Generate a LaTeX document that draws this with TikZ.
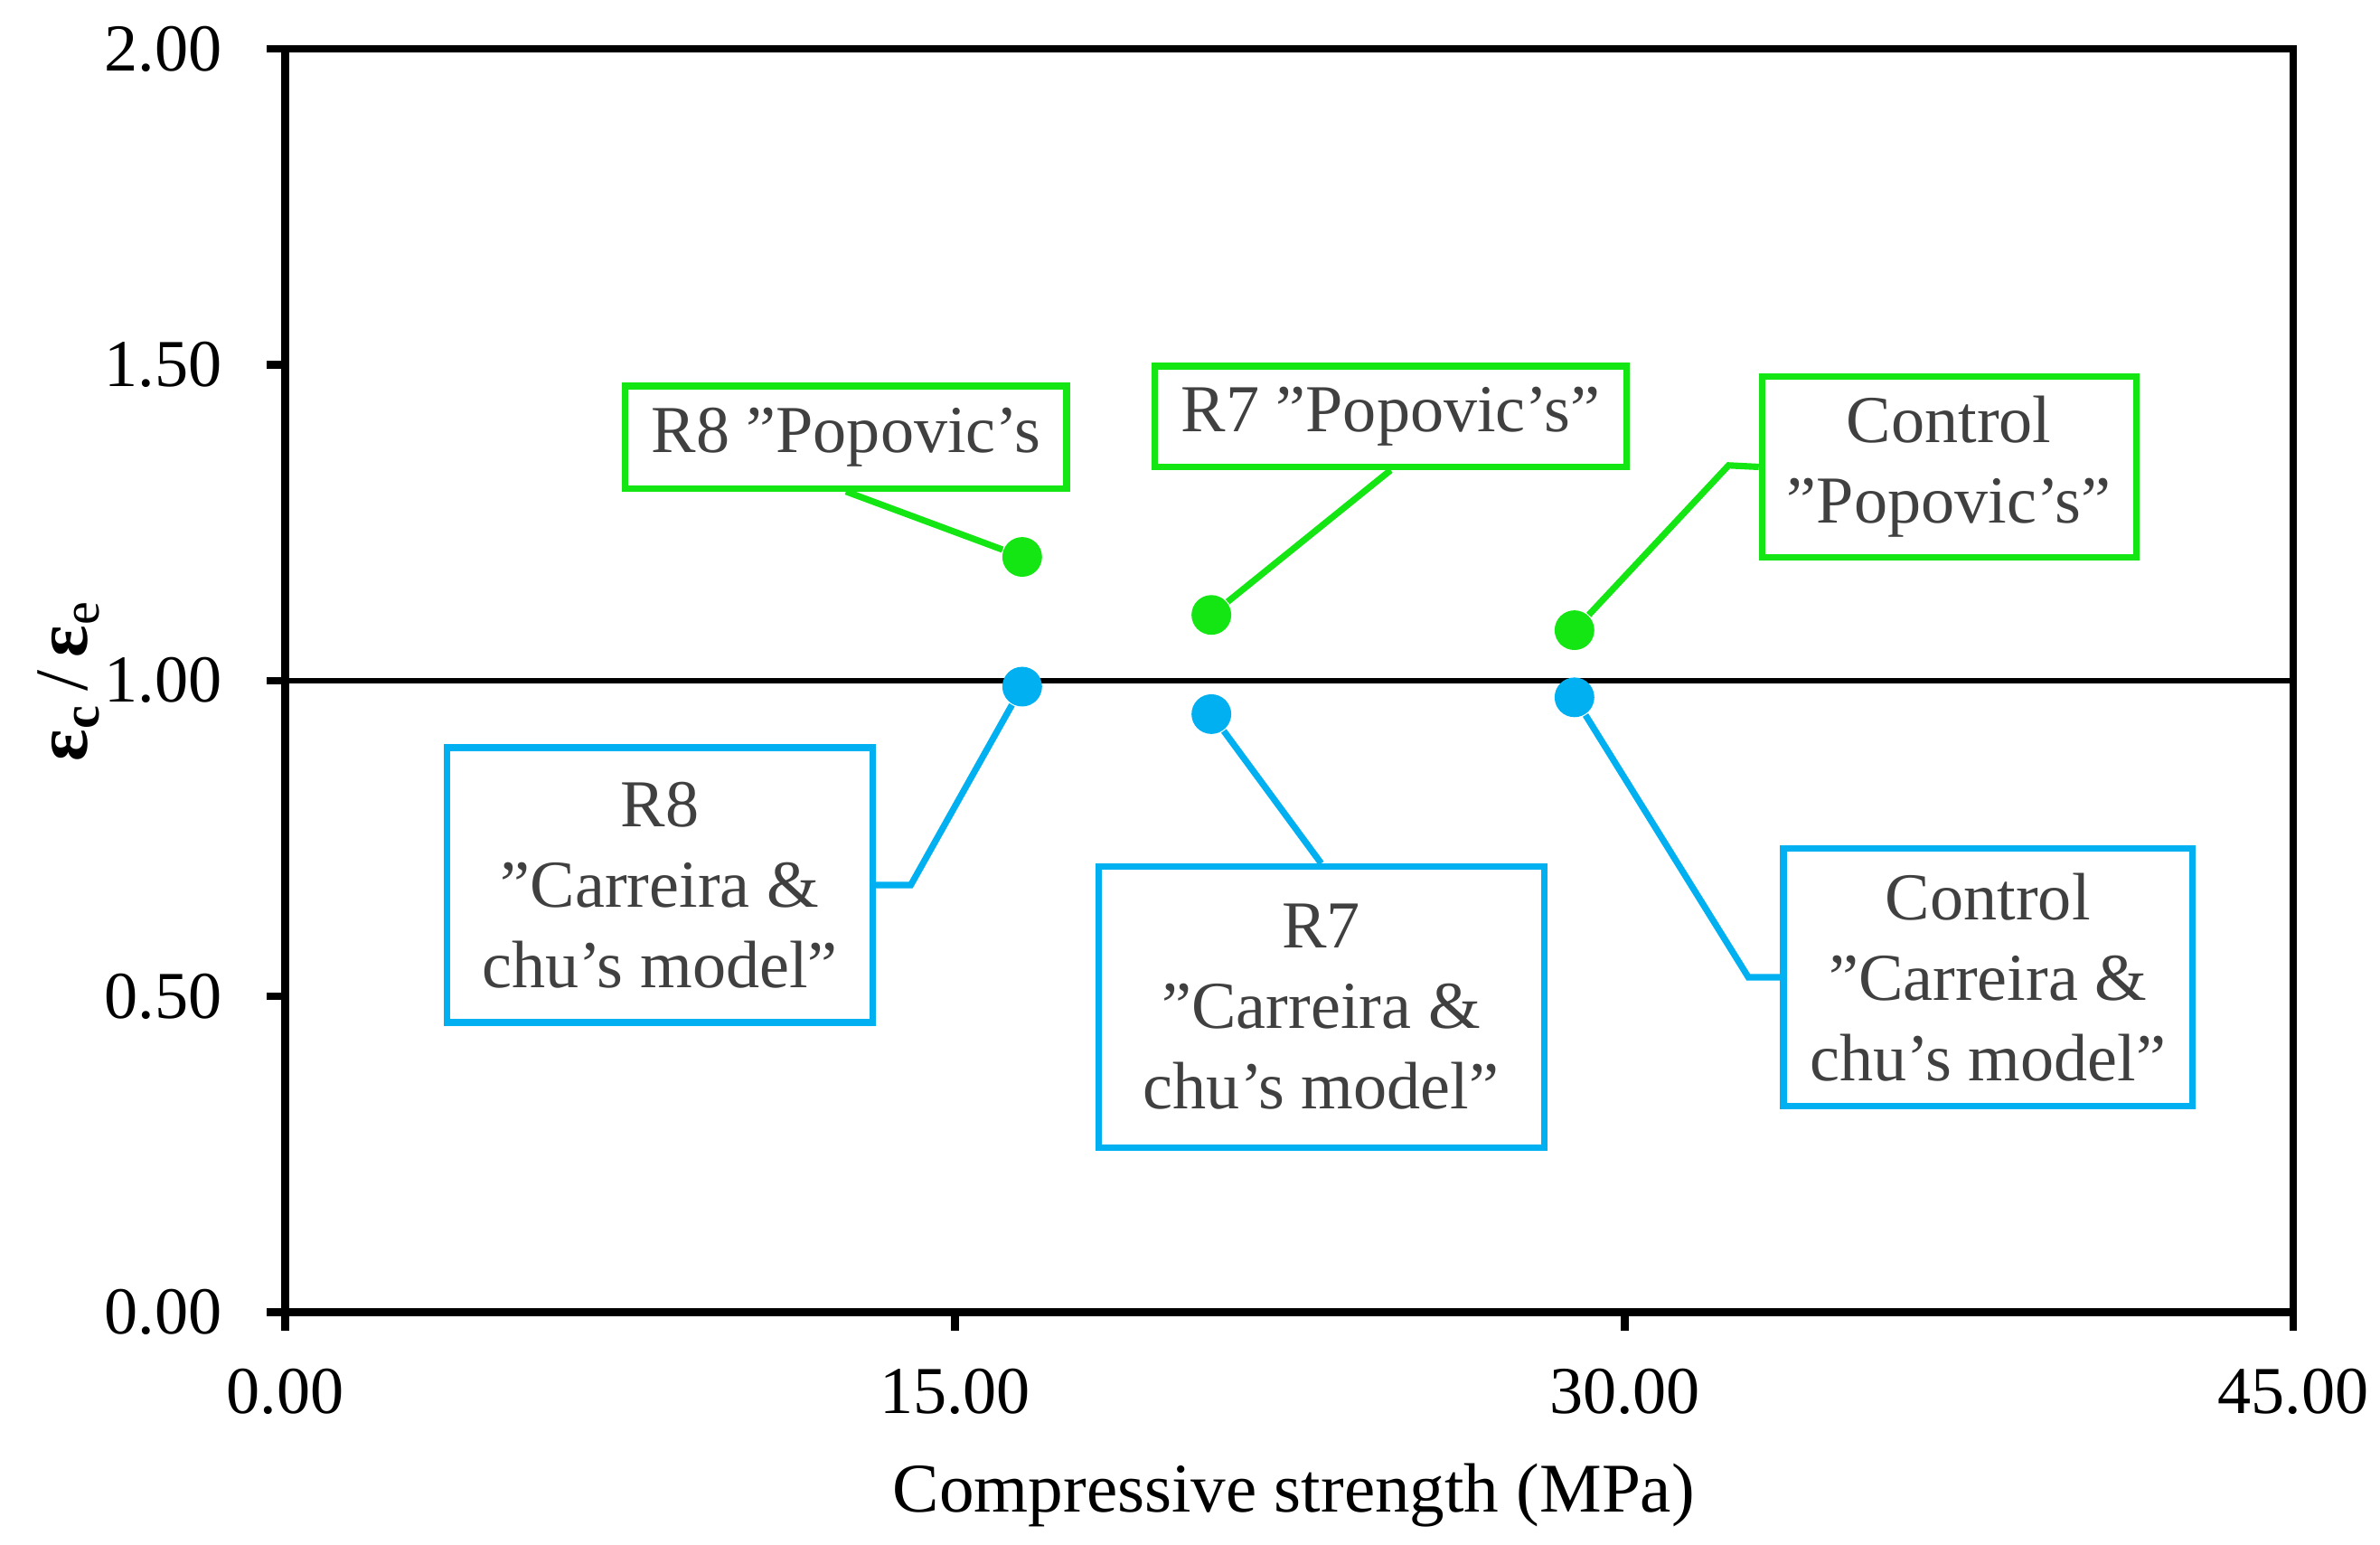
\documentclass[tikz,border=0pt]{standalone}
\usepackage{fontspec}
\setmainfont{Liberation Serif}
\usetikzlibrary{calc}
\definecolor{pgreen}{RGB}{20,230,20}
\definecolor{cblue}{RGB}{0,176,240}
\definecolor{tgray}{RGB}{64,64,64}
\newcommand\qq{\char34\relax}
\begin{document}
\begin{tikzpicture}[x=0.01cm,y=-0.01cm,
	lbl/.style={draw,line width=1.2pt,text=tgray,align=center,font=\fontsize{12.5}{15}\selectfont,inner sep=0pt},
	dot/.style={circle,inner sep=0pt,minimum size=0.26cm}]
	\useasboundingbox (0,0) rectangle (1560,1012);
	% axes
	\draw[line width=1.4pt] (187,32) rectangle (1503,860);
	\draw[line width=1pt] (187,446) -- (1503,446);
	\foreach \y/\t in {32/2.00,239/1.50,446/1.00,653/0.50,860/0.00}{
		\draw[line width=1.4pt] (175,\y) -- (187,\y);
		\node[anchor=east,font=\fontsize{12.5}{15}\selectfont] at (158,\y) {\t};}
	\foreach \x/\t in {187/0.00,626/15.00,1065/30.00,1503/45.00}{
		\draw[line width=1.4pt] (\x,860) -- (\x,872);
		\node[font=\fontsize{12.5}{15}\selectfont] at (\x,912) {\t};}
	\node[font=\fontsize{13}{15}\selectfont] (xl) at (848,980) {Compressive strength (MPa)};
	\node[rotate=90,font=\fontsize{14}{15}\selectfont] (yl) at (45,446) {\textbf{ε\textsubscript{c}}\,/\,\textbf{ε}\textsubscript{e}};
	% points
	\node[dot,fill=pgreen] (g8) at (670,365) {};
	\node[dot,fill=pgreen] (g7) at (794,403) {};
	\node[dot,fill=pgreen] (gc) at (1032,413) {};
	\node[dot,fill=cblue] (b8) at (670,450) {};
	\node[dot,fill=cblue] (b7) at (794,468) {};
	\node[dot,fill=cblue] (bc) at (1032,457) {};
	% labels
	\node[lbl,draw=pgreen,minimum width=2.89cm,minimum height=0.67cm] (G8) at (554.5,286.5) {R8 \qq Popovic’s};
	\node[lbl,draw=pgreen,minimum width=3.09cm,minimum height=0.66cm] (G7) at (911.5,273) {R7 \qq Popovic’s\qq};
	\node[lbl,draw=pgreen,minimum width=2.45cm,minimum height=1.18cm] (GC) at (1277.5,306) {Control\\\qq Popovic’s\qq};
	\node[lbl,draw=cblue,minimum width=2.79cm,minimum height=1.80cm] (B8) at (432.5,580) {R8\\\qq Carreira \&\\chu’s model\qq};
	\node[lbl,draw=cblue,minimum width=2.92cm,minimum height=1.84cm] (B7) at (866,660) {R7\\\qq Carreira \&\\chu’s model\qq};
	\node[lbl,draw=cblue,minimum width=2.68cm,minimum height=1.69cm] (BC) at (1303,640.5) {Control\\\qq Carreira \&\\chu’s model\qq};
	% leaders
	\draw[pgreen,line width=1.2pt] (g8) -- (G8.south);
	\draw[pgreen,line width=1.2pt] (g7) -- (G7.south);
	\draw[pgreen,line width=1.2pt] (gc) -- (1133,305) -- (GC.west);
	\draw[cblue,line width=1.2pt] (b8) -- (597,580) -- (B8.east);
	\draw[cblue,line width=1.2pt] (b7) -- (B7.north);
	\draw[cblue,line width=1.2pt] (bc) -- (1146,640.5) -- (BC.west);
\end{tikzpicture}
\end{document}
